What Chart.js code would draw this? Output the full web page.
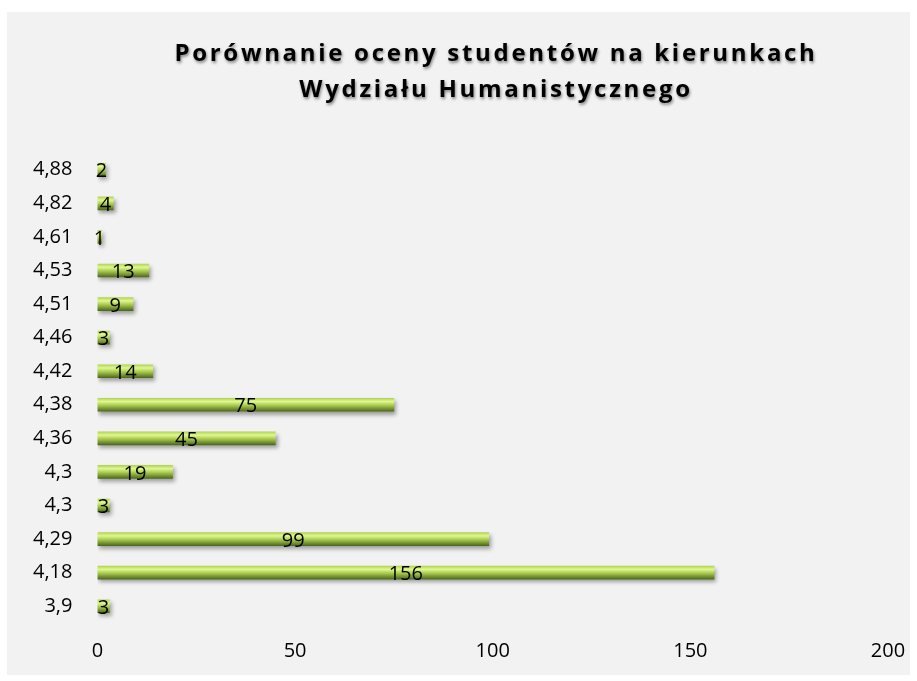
<!DOCTYPE html>
<html>
<head>
<meta charset="utf-8">
<script src="https://cdn.jsdelivr.net/npm/chart.js@4"></script>
<style>
  html, body { margin: 0; padding: 0; background: #ffffff; }
  #wrap { width: 917px; height: 681px; position: relative; }
</style>
</head>
<body>
<div id="wrap"><canvas id="c" width="917" height="681"></canvas></div>
<script>
const titleLines = ['Porównanie oceny studentów na kierunkach', 'Wydziału Humanistycznego'];
const categories = ['4,88', '4,82', '4,61', '4,53', '4,51', '4,46', '4,42', '4,38', '4,36', '4,3', '4,3', '4,29', '4,18', '3,9'];
const values = [2, 4, 1, 13, 9, 3, 14, 75, 45, 19, 3, 99, 156, 3];
const xTicks = [0, 50, 100, 150, 200];

const panelPlugin = {
  id: 'panel',
  beforeDraw(chart) {
    const ctx = chart.ctx;
    ctx.save();
    ctx.fillStyle = '#ffffff';
    ctx.fillRect(0, 0, chart.width, chart.height);
    ctx.fillStyle = '#f2f2f2';
    ctx.fillRect(7, 12, 903, 663);
    ctx.restore();
  }
};

const titlePlugin = {
  id: 'customTitle',
  afterDraw(chart) {
    const ctx = chart.ctx;
    ctx.save();
    ctx.font = 'bold 24px "Open Sans"';
    try { ctx.letterSpacing = '2.7px'; } catch (e) {}
    ctx.textAlign = 'center';
    ctx.textBaseline = 'middle';
    ctx.fillStyle = '#000000';
    ctx.shadowColor = 'rgba(0,0,0,0.45)';
    ctx.shadowOffsetX = 1;
    ctx.shadowOffsetY = 2;
    ctx.shadowBlur = 3;
    ctx.fillText(titleLines[0], 496, 54);
    ctx.fillText(titleLines[1], 496, 90);
    ctx.restore();
  }
};

const shadowPlugin = {
  id: 'barShadow',
  beforeDatasetDraw(chart) {
    const ctx = chart.ctx;
    ctx.save();
    ctx.shadowColor = 'rgba(0,0,0,0.35)';
    ctx.shadowOffsetX = 2;
    ctx.shadowOffsetY = 3;
    ctx.shadowBlur = 4;
  },
  afterDatasetDraw(chart) {
    chart.ctx.restore();
  }
};

const labelPlugin = {
  id: 'valueLabels',
  afterDatasetsDraw(chart) {
    const ctx = chart.ctx;
    const meta = chart.getDatasetMeta(0);
    ctx.save();
    ctx.font = '20px "Open Sans"';
    ctx.fillStyle = '#000000';
    ctx.textAlign = 'center';
    ctx.textBaseline = 'middle';
    meta.data.forEach((bar, i) => {
      const cx = (bar.base + bar.x) / 2;
      ctx.fillText(String(values[i]), cx, bar.y + 2);
    });
    ctx.restore();
  }
};

function barGradient(context) {
  const chart = context.chart;
  if (!chart.chartArea || !chart.scales.y) return '#a6c64c';
  const y = chart.scales.y.getPixelForValue(context.dataIndex);
  const g = chart.ctx.createLinearGradient(0, y - 6.5, 0, y + 6.5);
  g.addColorStop(0, '#b4d457');
  g.addColorStop(0.25, '#def98f');
  g.addColorStop(0.55, '#a9c84f');
  g.addColorStop(1, '#4d6a1c');
  return g;
}

new Chart(document.getElementById('c'), {
  type: 'bar',
  data: {
    labels: categories,
    datasets: [{
      data: values,
      backgroundColor: barGradient,
      borderWidth: 0,
      barThickness: 13
    }]
  },
  options: {
    indexAxis: 'y',
    responsive: false,
    animation: false,
    devicePixelRatio: 1,
    layout: { padding: { top: 153, left: 16, right: 29, bottom: 10 } },
    plugins: {
      legend: { display: false },
      title: { display: false },
      tooltip: { enabled: false }
    },
    scales: {
      x: {
        min: 0,
        max: 200,
        afterBuildTicks(axis) { axis.ticks = xTicks.map(v => ({ value: v })); },
        grid: { display: false },
        border: { display: false },
        ticks: { color: '#000000', font: { family: '"Open Sans"', size: 20 }, padding: 8 }
      },
      y: {
        grid: { display: false },
        border: { display: false },
        ticks: { color: '#000000', font: { family: '"Open Sans"', size: 20 }, padding: 17 }
      }
    }
  },
  plugins: [panelPlugin, shadowPlugin, labelPlugin, titlePlugin]
});
</script>
</body>
</html>
